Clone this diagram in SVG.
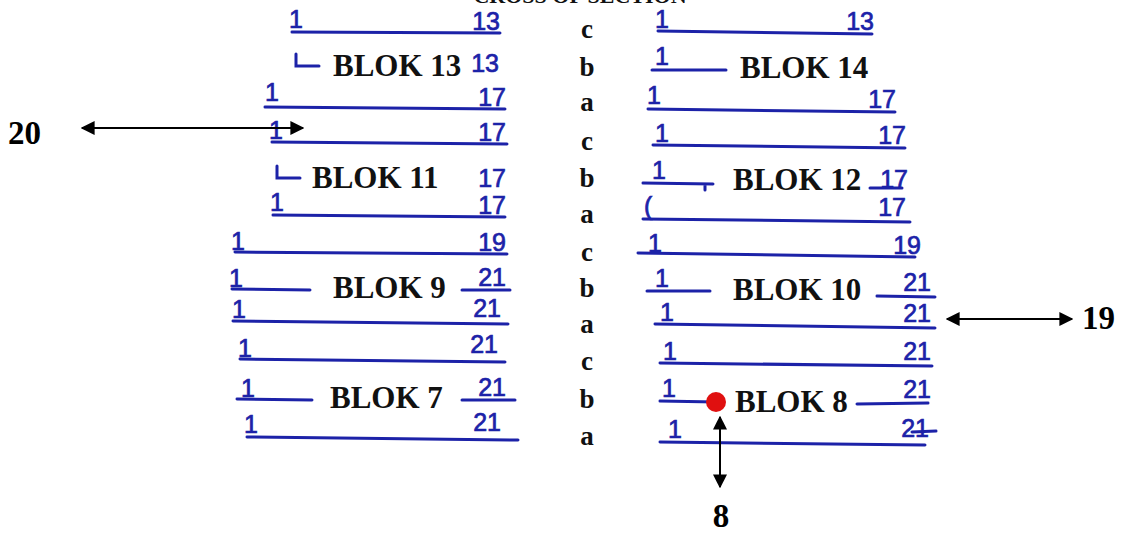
<svg xmlns="http://www.w3.org/2000/svg" width="1139" height="534" viewBox="0 0 1139 534">
<defs>
<style>
.bg{fill:#ffffff}
.hl{stroke:#1c22a8;stroke-width:3;stroke-linecap:round;fill:none}
.hn{font-family:"Liberation Sans","DejaVu Sans",sans-serif;font-size:25px;fill:#1c22a8;stroke:#1c22a8;stroke-width:0.7}
.hnr{font-family:"Liberation Sans","DejaVu Sans",sans-serif;font-size:25px;fill:#1c22a8;stroke:#1c22a8;stroke-width:0.7;text-anchor:end}
.blk{font-family:"Liberation Serif","Times New Roman",serif;font-weight:bold;font-size:31px;fill:#111}
.row{font-family:"Liberation Serif","Times New Roman",serif;font-weight:bold;font-size:27px;fill:#111;text-anchor:middle}
.dim{font-family:"Liberation Serif","Times New Roman",serif;font-weight:bold;font-size:33px;fill:#000}
.ar{stroke:#000;stroke-width:2;fill:none;marker-start:url(#ah);marker-end:url(#ah)}
</style>
<marker id="ah" viewBox="0 0 10 10" refX="9" refY="5" markerWidth="7" markerHeight="7" markerUnits="strokeWidth" orient="auto-start-reverse">
<path d="M0,0 L10,5 L0,10 Z" fill="#000"/>
</marker>
</defs>
<rect class="bg" width="1139" height="534"/>
<text x="580" y="3" text-anchor="middle" style="font-family:'Liberation Serif',serif;font-weight:bold;font-size:22px;fill:#111">CROSS OF SECTION</text>

<g id="row-labels">
<text class="row" x="587" y="38">c</text>
<text class="row" x="587" y="76">b</text>
<text class="row" x="587" y="111">a</text>
<text class="row" x="587" y="150">c</text>
<text class="row" x="587" y="187">b</text>
<text class="row" x="587" y="223">a</text>
<text class="row" x="587" y="261">c</text>
<text class="row" x="587" y="297">b</text>
<text class="row" x="587" y="333">a</text>
<text class="row" x="587" y="370">c</text>
<text class="row" x="587" y="408">b</text>
<text class="row" x="587" y="445">a</text>
</g>

<g id="blok13">
<path class="hl" d="M292,32 L500,33"/>
<text class="hn" x="289" y="28">1</text><text class="hnr" x="500" y="30">13</text>
<path class="hl" d="M296,54 L296,66 L319,66"/>
<text class="blk" x="333" y="76">BLOK 13</text>
<text class="hnr" x="499" y="72">13</text>
<path class="hl" d="M265,107 L505,109"/>
<text class="hn" x="265" y="101">1</text><text class="hnr" x="506" y="106">17</text>
</g>

<g id="blok11">
<path class="hl" d="M272,142 L507,144"/>
<text class="hn" x="269" y="139">1</text><text class="hnr" x="506" y="141">17</text>
<path class="hl" d="M277,166 L277,178 L300,178"/>
<text class="blk" x="312" y="188">BLOK 11</text>
<text class="hnr" x="506" y="187">17</text>
<path class="hl" d="M273,215 L505,217"/>
<text class="hn" x="270" y="211">1</text><text class="hnr" x="506" y="214">17</text>
</g>

<g id="blok9">
<path class="hl" d="M235,252 L507,254"/>
<text class="hn" x="231" y="250">1</text><text class="hnr" x="506" y="251">19</text>
<path class="hl" d="M232,289 L310,290"/>
<text class="hn" x="229" y="287">1</text>
<text class="blk" x="333" y="298">BLOK 9</text>
<path class="hl" d="M462,290 L510,290"/>
<text class="hnr" x="506" y="286">21</text>
<path class="hl" d="M233,321 L508,324"/>
<text class="hn" x="232" y="318">1</text><text class="hnr" x="501" y="317">21</text>
</g>

<g id="blok7">
<path class="hl" d="M240,359 L505,362"/>
<text class="hn" x="238" y="357">1</text><text class="hnr" x="498" y="353">21</text>
<path class="hl" d="M237,399 L312,400"/>
<text class="hn" x="241" y="397">1</text>
<text class="blk" x="330" y="408">BLOK 7</text>
<path class="hl" d="M462,400 L515,400"/>
<text class="hnr" x="506" y="396">21</text>
<path class="hl" d="M247,437 L518,440"/>
<text class="hn" x="244" y="433">1</text><text class="hnr" x="501" y="431">21</text>
</g>

<g id="blok14">
<path class="hl" d="M658,31 L872,34"/>
<text class="hn" x="655" y="28">1</text><text class="hnr" x="874" y="30">13</text>
<path class="hl" d="M652,70 L726,70"/>
<text class="hn" x="655" y="65">1</text>
<text class="blk" x="740" y="78">BLOK 14</text>
<path class="hl" d="M648,109 L895,112"/>
<text class="hn" x="647" y="104">1</text><text class="hnr" x="896" y="108">17</text>
</g>

<g id="blok12">
<path class="hl" d="M653,145 L905,148"/>
<text class="hn" x="655" y="142">1</text><text class="hnr" x="906" y="144">17</text>
<path class="hl" d="M643,183 L713,184 M705,184 L705,190"/>
<text class="hn" x="652" y="179">1</text>
<text class="blk" x="733" y="190">BLOK 12</text>
<path class="hl" d="M870,188 L902,188"/>
<text class="hnr" x="908" y="188">17</text>
<path class="hl" d="M643,219 L910,222"/>
<text class="hn" x="644" y="215">(</text><text class="hnr" x="906" y="216">17</text>
</g>

<g id="blok10">
<path class="hl" d="M638,253 L915,257"/>
<text class="hn" x="648" y="252">1</text><text class="hnr" x="921" y="254">19</text>
<path class="hl" d="M647,291 L710,291"/>
<text class="hn" x="655" y="287">1</text>
<text class="blk" x="733" y="300">BLOK 10</text>
<path class="hl" d="M877,296 L935,297"/>
<text class="hnr" x="931" y="291">21</text>
<path class="hl" d="M655,324 L935,328"/>
<text class="hn" x="660" y="321">1</text><text class="hnr" x="931" y="322">21</text>
</g>

<g id="blok8">
<path class="hl" d="M660,363 L932,366"/>
<text class="hn" x="663" y="360">1</text><text class="hnr" x="931" y="360">21</text>
<path class="hl" d="M660,401 L716,402"/>
<text class="hn" x="662" y="397">1</text>
<circle cx="716" cy="402" r="10" fill="#e01010"/>
<text class="blk" x="735" y="412">BLOK 8</text>
<path class="hl" d="M857,404 L928,403"/>
<text class="hnr" x="931" y="398">21</text>
<path class="hl" d="M660,442 L925,445"/>
<text class="hn" x="668" y="438">1</text><text class="hnr" x="929" y="437">21</text>
<path class="hl" d="M912,432 L936,431"/>
</g>

<g id="connectors">
<line class="ar" x1="82" y1="128" x2="303" y2="128"/>
<line class="ar" x1="947" y1="319" x2="1072" y2="319"/>
<line class="ar" x1="720" y1="417" x2="720" y2="487"/>
</g>

<g id="dimension-labels">
<text class="dim" x="8" y="144">20</text>
<text class="dim" x="1082" y="329">19</text>
<text class="dim" x="721" y="527" text-anchor="middle">8</text>
</g>
</svg>
